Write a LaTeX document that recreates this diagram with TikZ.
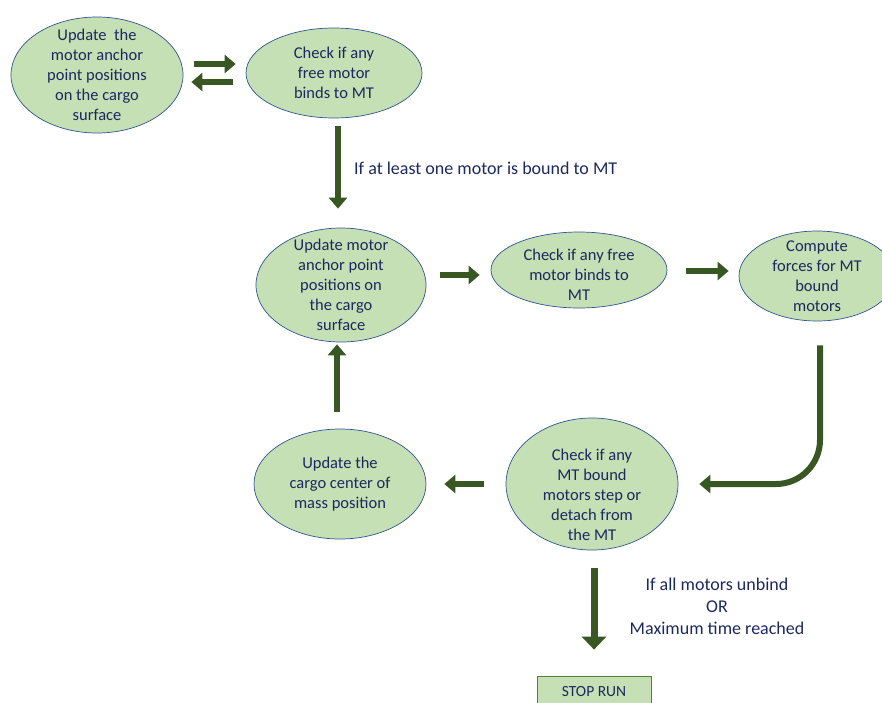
\documentclass[tikz,border=0pt]{standalone}
\usepackage{fontspec}
\setmainfont{Carlito}
\usetikzlibrary{arrows.meta, shapes.geometric}

\definecolor{ellgreen}{RGB}{197,224,180}
\definecolor{ellblue}{RGB}{47,85,151}
\definecolor{arrgreen}{RGB}{56,87,35}
\definecolor{boxgreen}{RGB}{84,130,53}
\definecolor{navy}{RGB}{28,40,96}

\begin{document}
\begin{tikzpicture}[x=1pt, y=-1pt,
  ell/.style={ellipse, draw=ellblue, line width=0.7pt, fill=ellgreen, inner sep=0pt},
  txt/.style={align=center, text=navy, font=\fontsize{16.5}{20}\selectfont, inner sep=0pt},
  lbl/.style={align=center, text=navy, font=\fontsize{18}{22}\selectfont, inner sep=0pt},
  stopbox/.style={draw=boxgreen, line width=0.8pt, fill=ellgreen, inner sep=0pt},
  arr/.style={-{Triangle[width=18pt, length=11pt]}, line width=6pt, draw=arrgreen},
  bigarr/.style={-{Triangle[width=24pt, length=13pt]}, line width=7pt, draw=arrgreen}
]
  \useasboundingbox (0,0) rectangle (882,702);

  % ========== ROW 1 ==========
  \node[ell, minimum width=172pt, minimum height=116pt,
        label={[txt]center:{Update\ \ the\\motor anchor\\point positions\\on the cargo\\surface}}]
        (updA) at (97,75) {};
  \node[ell, minimum width=176pt, minimum height=90pt,
        label={[txt]center:{Check if any\\free motor\\binds to MT}}]
        (chkA) at (334,73) {};

  % ========== ROW 2 ==========
  \node[ell, minimum width=170pt, minimum height=114pt,
        label={[txt]center:{Update motor\\anchor point\\positions on\\the cargo\\surface}}]
        (updB) at (341,285) {};
  \node[ell, minimum width=176pt, minimum height=76pt,
        label={[txt, yshift=-5pt]center:{Check if any free\\motor binds to\\MT}}]
        (chkB) at (579,270) {};
  \node[ell, minimum width=156pt, minimum height=90pt,
        label={[txt]center:{Compute\\forces for MT\\bound\\motors}}]
        (cmpF) at (817,276) {};

  % ========== ROW 3 ==========
  \node[ell, minimum width=172pt, minimum height=110pt,
        label={[txt]center:{Update the\\cargo center of\\mass position}}]
        (updC) at (340,484) {};
  \node[ell, minimum width=172pt, minimum height=132pt,
        label={[txt, yshift=-11pt]center:{Check if any\\MT bound\\motors step or\\detach from\\the MT}}]
        (chkM) at (592,484) {};

  % ========== STOP ==========
  \node[stopbox, minimum width=114pt, minimum height=36pt] (stop) at (594,694) {};
  \node[txt, font=\fontsize{15.5}{18}\selectfont] (stoptxt) at (594,692) {STOP RUN};

  % ======== ARROWS ========
  \draw[arr, shorten <=11pt, shorten >=10pt] ([yshift=11pt]updA.east) -- ([yshift=9pt]chkA.west);
  \draw[arr, shorten <=13pt, shorten >=8pt] ([yshift=-9pt]chkA.west) -- ([yshift=-7pt]updA.east);

  \draw[arr, shorten <=8pt, shorten >=19pt] ([xshift=4pt]chkA.south) -- ([xshift=-3pt]updB.north);
  \node[lbl, anchor=west] (lblbound) at (354,168) {If at least one motor is bound to MT};

  \draw[arr, shorten <=14pt, shorten >=11pt] ([yshift=10pt]updB.east) -- ([yshift=-5pt]chkB.west);
  \draw[arr, shorten <=19pt, shorten >=10pt] ([yshift=-1pt]chkB.east) -- ([yshift=5pt]cmpF.west);

  \draw[arr, rounded corners=44pt] ([xshift=3pt, yshift=-24pt]cmpF.south) |- ([xshift=21pt]chkM.east);
  \draw[arr, shorten <=22pt, shorten >=18pt] (chkM.west) -- (updC.east);
  \draw[arr, shorten <=17pt, shorten >=2pt] ([xshift=-3pt]updC.north) -- ([xshift=-4pt]updB.south);

  \draw[bigarr, shorten <=18pt, shorten >=26pt] ([xshift=2pt]chkM.south) -- (stop.north);
  \node[lbl] (lblstop) at (717,606) {If all motors unbind\\OR\\Maximum time reached};

\end{tikzpicture}
\end{document}
